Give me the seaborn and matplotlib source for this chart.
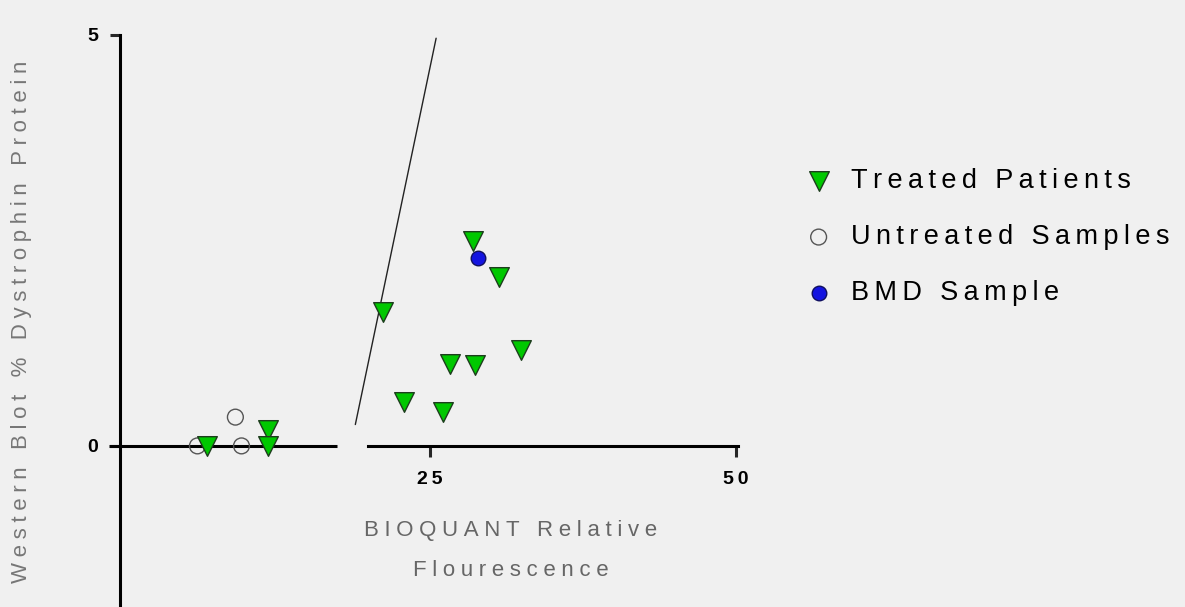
import numpy as np
import pandas as pd
import matplotlib
matplotlib.use("Agg")
import matplotlib.pyplot as plt
import seaborn as sns

# values
treated_x = [6.8, 11.8, 11.8, 21.2, 22.9, 26.1, 26.6, 28.5, 28.7, 30.6, 32.4]
treated_y = [0.0, 0.19, 0.0, 1.63, 0.54, 0.41, 1.00, 2.49, 0.99, 2.06, 1.17]
untreated_x = [6.0, 9.1, 9.6]
untreated_y = [0.0, 0.35, 0.0]
bmd_x = [28.9]
bmd_y = [2.29]
fit_x = [18.9, 25.5]
fit_y = [0.26, 4.96]

x_ticks = [25, 50]
y_ticks = [0, 5]
labels = ["Treated Patients", "Untreated Samples", "BMD Sample"]
ylabel = "Western Blot % Dystrophin Protein"
xlabel = ["BIOQUANT Relative", "Flourescence"]

sns.set_theme(style="white")
plt.rcParams["font.family"] = ["Liberation Sans", "DejaVu Sans"]

bg = "#f0f0f0"


def spaced(s, gap="\u2005"):
    # mimic the wide letter spacing of the original
    return gap.join(s)


treated = pd.DataFrame({"x": treated_x, "y": treated_y})
untreated = pd.DataFrame({"x": untreated_x, "y": untreated_y})
bmd = pd.DataFrame({"x": bmd_x, "y": bmd_y})

fig = plt.figure(figsize=(11.85, 6.07), dpi=100, facecolor=bg)
ax = fig.add_axes([100 / 1185, 0, 660 / 1185, 577 / 607], facecolor=bg)

# fitted line
sns.lineplot(x=fit_x, y=fit_y, ax=ax, color="#222222", linewidth=1.0, zorder=2)

# broken x axis: left piece drawn by hand, right piece is the spine
ax.hlines(0, -1.2, 17.4, color="black", linewidth=2.2, zorder=1)

sns.scatterplot(data=untreated, x="x", y="y", ax=ax, marker="o", s=130,
                facecolor="none", edgecolor="#555555", linewidth=1.0,
                label=spaced(labels[1], "\u2009"), zorder=3)
sns.scatterplot(data=treated, x="x", y="y", ax=ax, marker="v", s=200,
                color="#00c800", edgecolor="#1d3d1d", linewidth=1.0,
                label=spaced(labels[0], "\u2009"), zorder=4)
sns.scatterplot(data=bmd, x="x", y="y", ax=ax, marker="o", s=110,
                color="#1414e0", edgecolor="#101060", linewidth=1.0,
                label=spaced(labels[2], "\u2009"), zorder=5)

ax.set_xlim(-1.96, 51.96)
ax.set_ylim(-1.96, 5.06)

for side in ["top", "right"]:
    ax.spines[side].set_visible(False)
ax.spines["left"].set_position(("data", -0.3))
ax.spines["left"].set_bounds(-2, 5)
ax.spines["left"].set_linewidth(2.2)
ax.spines["left"].set_color("black")
ax.spines["bottom"].set_position(("data", 0))
ax.spines["bottom"].set_bounds(19.9, 50.2)
ax.spines["bottom"].set_linewidth(2.2)
ax.spines["bottom"].set_color("black")

ax.set_xticks(x_ticks)
ax.set_xticklabels([spaced(str(t), "\u2009") for t in x_ticks],
                   fontweight="bold", fontsize=14, color="black")
ax.set_yticks(y_ticks)
ax.set_yticklabels([str(t) for t in y_ticks], fontweight="bold", fontsize=14,
                   color="black")
ax.tick_params(axis="x", direction="out", length=8, width=2.2, pad=10)
ax.tick_params(axis="y", direction="out", length=7, width=2.2, pad=9)
ax.tick_params(axis="both", bottom=True, left=True)

ax.set_xlabel("")
ax.set_ylabel("")
ax.text(31.6, -1.27, spaced(xlabel[0]) + "\n" + spaced(xlabel[1]), ha="center",
        va="center", fontsize=16, color="#666666", linespacing=2.17)
fig.text(22 / 1185, 1 - 322 / 607, spaced(ylabel), rotation=90, ha="center",
         va="center", fontsize=16, color="#777777")

handles, lbls = ax.get_legend_handles_labels()
order = [1, 0, 2]
ax.legend([handles[i] for i in order], [lbls[i] for i in order],
          loc="upper left", bbox_to_anchor=(778 / 1185, 1 - 144 / 607),
          bbox_transform=fig.transFigure, frameon=False,
          labelspacing=1.1, handletextpad=0.6, handlelength=1.2,
          labelcolor="black", prop={"size": 19.5})

fig.savefig("out.png", dpi=100, facecolor=bg)
